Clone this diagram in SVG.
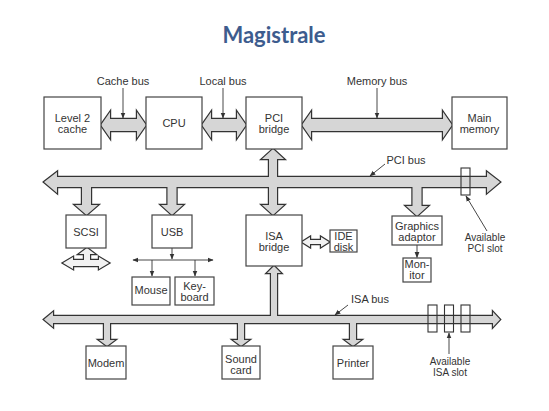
<svg xmlns="http://www.w3.org/2000/svg" xmlns:xlink="http://www.w3.org/1999/xlink" width="549" height="411" viewBox="0 0 549 411">
<style>
  .box{fill:#fff;stroke:#444;stroke-width:1.2}
  .lbl{font-family:"Liberation Sans",Arial,sans-serif;font-size:11px;fill:#333;text-anchor:middle}
  .sm{font-size:10px}
  .outl{fill:#d6d6d6;stroke:#333;stroke-width:2.4;stroke-linejoin:miter}
  .fil{fill:#d6d6d6;stroke:none}
  .outlw{fill:#f2f2f2;stroke:#333;stroke-width:2.4}
  .filw{fill:#f2f2f2;stroke:none}
  .ptr{stroke:#333;stroke-width:0.9;fill:none;marker-end:url(#ah)}
  .slot{fill:none;stroke:#333;stroke-width:1.1}
  .title{font-family:Lato,"Open Sans",sans-serif;font-weight:bold;font-size:22px;fill:#3d5c8e;text-anchor:middle}
</style>
<defs>
  <marker id="ah" viewBox="0 0 10 10" refX="9" refY="5" markerWidth="6" markerHeight="6" orient="auto" markerUnits="userSpaceOnUse">
    <path d="M0,1 L10,5 L0,9 z" fill="#333"/>
  </marker>
  <g id="pciNet">
    <polygon points="44,182 57,172 57,177 487,177 487,172 500,182 487,193 487,187 57,187 57,193"/>
    <polygon points="82,182 91,182 91,205 98,205 86.5,215 75,205 82,205"/>
    <polygon points="167.5,182 176.5,182 176.5,205 183,205 172,215 161,205 167.5,205"/>
    <polygon points="412.5,182 421.5,182 421.5,206 428,206 417,216 406,206 412.5,206"/>
    <polygon points="273,149 284,159 277,159 277,205 284,205 273,215 262,205 269,205 269,159 262,159"/>
  </g>
  <g id="isaNet">
    <polygon points="44,319.5 53,312 53,316 493,316 493,312 500,319.5 493,327 493,323 53,323 53,327"/>
    <polygon points="104,319 110,319 110,340 115,340 107,346 99,340 104,340"/>
    <polygon points="238,319 244,319 244,340 249,340 241,346 233,340 238,340"/>
    <polygon points="350,319 356,319 356,340 361,340 353,346 345,340 350,340"/>
    <polygon points="271,320 271,273 267,273 274,266 281,273 277,273 277,320"/>
  </g>
  <g id="scsiIo">
    <polygon points="63,263 73,257 73,260 99,260 99,257 109,263 99,269 99,266 73,266 73,269"/>
    <polygon points="87,248 95,254 90,254 90,262 84,262 84,254 79,254"/>
  </g>
  <polygon id="cacheBus" points="101,125 110,112 110,119 137,119 137,112 146,125 137,138 137,131 110,131 110,138"/>
  <polygon id="localBus" points="202,125 211,112 211,119 237,119 237,112 246,125 237,138 237,131 211,131 211,138"/>
  <polygon id="memBus" points="302,125 311,112 311,119 443,119 443,112 452,125 443,138 443,131 311,131 311,138"/>
  <polygon id="ideBus" points="302,242 310,237 310,240 321,240 321,237 329,242 321,247 321,244 310,244 310,247"/>
</defs>

<text class="title" x="274" y="43">Magistrale</text>

<g id="connectors">
  <use href="#pciNet" xlink:href="#pciNet" class="outl"/>
  <use href="#pciNet" xlink:href="#pciNet" class="fil"/>
  <use href="#isaNet" xlink:href="#isaNet" class="outl"/>
  <use href="#isaNet" xlink:href="#isaNet" class="fil"/>
  <use href="#cacheBus" xlink:href="#cacheBus" class="outl"/>
  <use href="#cacheBus" xlink:href="#cacheBus" class="fil"/>
  <use href="#localBus" xlink:href="#localBus" class="outl"/>
  <use href="#localBus" xlink:href="#localBus" class="fil"/>
  <use href="#memBus" xlink:href="#memBus" class="outl"/>
  <use href="#memBus" xlink:href="#memBus" class="fil"/>
  <use href="#ideBus" xlink:href="#ideBus" class="outlw"/>
  <use href="#ideBus" xlink:href="#ideBus" class="filw"/>
  <use href="#scsiIo" xlink:href="#scsiIo" class="outlw"/>
  <use href="#scsiIo" xlink:href="#scsiIo" class="filw"/>
  <!-- slots -->
  <rect class="slot" x="461" y="168" width="9" height="27"/>
  <rect class="slot" x="428" y="305" width="9" height="27"/>
  <rect class="slot" x="444.5" y="305" width="9" height="27"/>
  <rect class="slot" x="461" y="305" width="9" height="27"/>
  <!-- USB tree -->
  <line class="ptr" x1="172" y1="248" x2="172" y2="259"/>
  <line class="ptr" x1="172" y1="260" x2="213" y2="260"/>
  <line class="ptr" x1="172" y1="260" x2="133" y2="260"/>
  <line class="ptr" x1="152" y1="260" x2="152" y2="276"/>
  <line class="ptr" x1="195" y1="260" x2="195" y2="276"/>
  <line class="ptr" x1="417" y1="245" x2="417" y2="257.5"/>
  <!-- label pointers -->
  <line class="ptr" x1="123" y1="88" x2="123" y2="118"/>
  <line class="ptr" x1="223" y1="88" x2="223" y2="118"/>
  <line class="ptr" x1="377" y1="88" x2="377" y2="118"/>
  <line class="ptr" x1="385" y1="164" x2="370" y2="176"/>
  <line class="ptr" x1="487" y1="231" x2="466" y2="196"/>
  <line class="ptr" x1="348" y1="305" x2="335" y2="315"/>
  <line class="ptr" x1="449" y1="354" x2="449" y2="333"/>
</g>

<g id="l2cache"><rect class="box" x="44" y="97" width="57" height="52"/><text class="lbl" x="72.5" y="122">Level 2<tspan x="72.5" y="133">cache</tspan></text></g>
<g id="cpu"><rect class="box" x="146" y="97" width="56" height="52"/><text class="lbl" x="174" y="127">CPU</text></g>
<g id="pcibridge"><rect class="box" x="246" y="97" width="56" height="52"/><text class="lbl" x="274" y="122">PCI<tspan x="274" y="133">bridge</tspan></text></g>
<g id="mainmem"><rect class="box" x="452" y="97" width="55" height="52"/><text class="lbl" x="479.5" y="122">Main<tspan x="479.5" y="133">memory</tspan></text></g>
<g id="scsi"><rect class="box" x="66" y="215" width="40" height="33"/><text class="lbl" x="86" y="236">SCSI</text></g>
<g id="usb"><rect class="box" x="152" y="215" width="40" height="33"/><text class="lbl" x="172" y="236">USB</text></g>
<g id="isabridge"><rect class="box" x="246" y="215" width="56" height="51"/><text class="lbl" x="274" y="240">ISA<tspan x="274" y="251">bridge</tspan></text></g>
<g id="idedisk"><rect class="box" x="330" y="230" width="27" height="22"/><text class="lbl" x="343.5" y="240">IDE<tspan x="343.5" y="250.5">disk</tspan></text></g>
<g id="graphics"><rect class="box" x="392" y="216" width="50" height="29"/><text class="lbl" x="417" y="230">Graphics<tspan x="417" y="240.5">adaptor</tspan></text></g>
<g id="monitor"><rect class="box" x="403" y="258" width="28" height="24"/><text class="lbl" x="417" y="268">Mon-<tspan x="417" y="279">itor</tspan></text></g>
<g id="mouse"><rect class="box" x="132" y="277" width="38" height="28"/><text class="lbl" x="151" y="294">Mouse</text></g>
<g id="keyboard"><rect class="box" x="175" y="277" width="39" height="28"/><text class="lbl" x="194.5" y="290">Key-<tspan x="194.5" y="300.5">board</tspan></text></g>
<g id="modem"><rect class="box" x="86" y="346" width="40" height="33"/><text class="lbl" x="106" y="367">Modem</text></g>
<g id="soundcard"><rect class="box" x="222" y="346" width="38" height="33"/><text class="lbl" x="241" y="363">Sound<tspan x="241" y="373.5">card</tspan></text></g>
<g id="printer"><rect class="box" x="333" y="346" width="40" height="33"/><text class="lbl" x="353" y="367">Printer</text></g>

<g id="labels">
  <text class="lbl" x="123" y="85">Cache bus</text>
  <text class="lbl" x="223" y="85">Local bus</text>
  <text class="lbl" x="377" y="85">Memory bus</text>
  <text class="lbl" x="406" y="164">PCI bus</text>
  <text class="lbl" x="370" y="303">ISA bus</text>
  <text class="lbl sm" x="485" y="240.5">Available<tspan x="485" y="251.5">PCI slot</tspan></text>
  <text class="lbl sm" x="450" y="364.5">Available<tspan x="450" y="375.5">ISA slot</tspan></text>
</g>
</svg>
